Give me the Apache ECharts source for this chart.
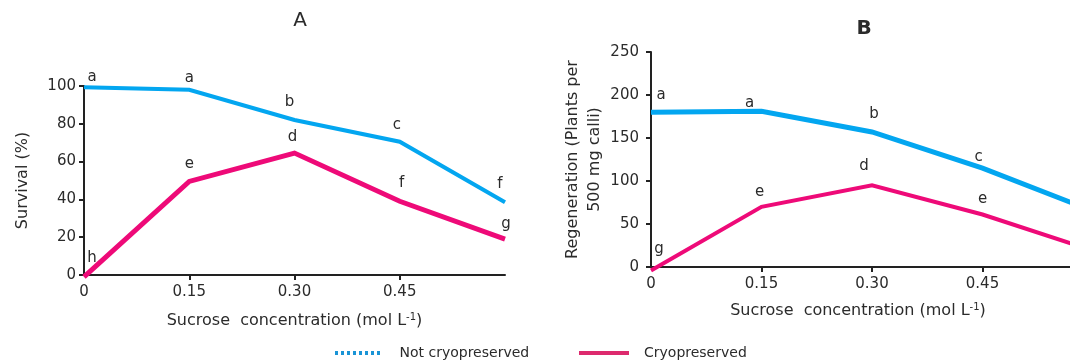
<!DOCTYPE html>
<html><head><meta charset="utf-8">
<script src="https://cdn.jsdelivr.net/npm/echarts@6/dist/echarts.min.js"></script>
<style>html,body{margin:0;padding:0;background:#fff}#c{width:1070px;height:364px}</style>
</head><body><div id="c"></div>
<script>
// ---- data ----
const xLabels = ['0', '0.15', '0.30', '0.45', '0.60'];
const survivalNot = [99.3, 98, 82, 70.5, 38.5];
const survivalCryo = [-1, 49.5, 64.5, 39, 19];
const regenNot = [180, 181, 157, 115, 65];
const regenCryo = [-4, 70, 95, 61, 19];
const lettersSurvNot = ['a', 'a', 'b', 'c', 'f'];
const lettersSurvCryo = ['h', 'e', 'd', 'f', 'g'];
const lettersRegenNot = ['a', 'a', 'b', 'c', ''];
const lettersRegenCryo = ['g', 'e', 'd', 'e', ''];
const survivalTicks = [0, 100, 20];
const regenTicks = [0, 250, 50];

// ---- layout / style ----
const FONT = 'DejaVu Sans';
const TXT = '#2b2b2b';
const BLUE = '#03a6f0';
const PINK = '#ee0a78';
const offA1 = [[8,-10],[0,-12],[-5,-18],[-3,-17],[-5,-18]];
const offA2 = [[8,-19],[0,-17],[-2,-16],[2,-18],[1,-15]];
const offB1 = [[10,-17],[-12,-8],[2,-18],[-4,-11],[0,0]];
const offB2 = [[8,-21],[-2,-15],[-8,-19],[0,-15],[0,0]];

const chart = echarts.init(document.getElementById('c'), null, {renderer: 'canvas'});

function xAxisCfg(gi, nameGap, namePad) {
  return {
    type: 'category', gridIndex: gi, data: xLabels, boundaryGap: false,
    axisLine: {lineStyle: {color: '#222', width: 2}},
    axisTick: {show: true, length: 5, lineStyle: {color: '#222', width: 2}, interval: function (i) { return i > 0 && i < 4; }},
    axisLabel: {color: TXT, fontFamily: FONT, fontSize: 15, margin: 10, formatter: function (v, i) { return i < 4 ? v : ''; }},
    splitLine: {show: false},
    name: 'Sucrose  concentration (mol L{sup|-1})', nameLocation: 'middle', nameGap: nameGap,
    nameTextStyle: {color: TXT, fontFamily: FONT, fontSize: 16, padding: namePad,
      rich: {sup: {fontSize: 10, verticalAlign: 'top', padding: [0, 0, 8, 0], color: TXT, fontFamily: FONT}}}
  };
}
function yAxisCfg(gi, ticks, name, nameGap, labelMargin) {
  return {
    type: 'value', gridIndex: gi, min: ticks[0], max: ticks[1], interval: ticks[2],
    axisLine: {show: true, lineStyle: {color: '#222', width: 2}},
    axisTick: {show: true, length: 5, lineStyle: {color: '#222', width: 2}},
    axisLabel: {color: TXT, fontFamily: FONT, fontSize: 15, margin: labelMargin},
    splitLine: {show: false},
    name: name, nameLocation: 'middle', nameGap: nameGap,
    nameTextStyle: {color: TXT, fontFamily: FONT, fontSize: 16, lineHeight: 22}
  };
}
function lineSeries(name, gi, data, color, width) {
  return {
    type: 'line', name: name, xAxisIndex: gi, yAxisIndex: gi, data: data,
    symbol: 'none', clip: false, silent: true, animation: false,
    lineStyle: {color: color, width: width, join: 'miter'}, itemStyle: {color: color}
  };
}
function letterSeries(gi, data, letters, offs) {
  return {
    type: 'scatter', name: 'letters' + gi + letters.join(''), xAxisIndex: gi, yAxisIndex: gi,
    symbolSize: 0, silent: true, animation: false, clip: false,
    itemStyle: {opacity: 1},
    data: data.map(function (v, i) {
      return {value: [i, v], label: {show: letters[i] !== '', formatter: letters[i], offset: offs[i]}};
    }),
    label: {show: true, position: 'inside', color: TXT, fontFamily: FONT, fontSize: 15}
  };
}

// legend icons drawn as paths (dotted bar / solid bar)
function dottedPath(w, dash, gap, h) {
  let p = 'path://';
  for (let x = 0; x + dash <= w; x += dash + gap) p += 'M' + x + ',0h' + dash + 'v' + h + 'h-' + dash + 'z';
  return p;
}

chart.setOption({
  animation: false,
  backgroundColor: '#fff',
  title: [
    {text: 'A', left: 295, top: 6, textAlign: 'center', textStyle: {color: TXT, fontFamily: FONT, fontSize: 20, fontWeight: 'normal'}},
    {text: 'B', left: 859, top: 14, textAlign: 'center', textStyle: {color: TXT, fontFamily: FONT, fontSize: 20, fontWeight: 'bold'}}
  ],
  grid: [
    {left: 84, top: 86, width: 421, height: 189, outerBoundsMode: 'none', containLabel: false},
    {left: 651, top: 52, width: 442, height: 215, outerBoundsMode: 'none', containLabel: false}
  ],
  xAxis: [xAxisCfg(0, 37, [0, 0, 0, 0]), xAxisCfg(1, 35, [0, 28, 0, 0])],
  yAxis: [
    yAxisCfg(0, survivalTicks, 'Survival (%)', 50, 8),
    yAxisCfg(1, regenTicks, 'Regeneration (Plants per\n500 mg calli)', 45, 12)
  ],
  legend: [
    {data: [{name: 'Not cryopreserved', icon: dottedPath(48, 3, 3, 4), itemStyle: {color: '#1994d6'}}],
      left: 335, top: 346, padding: 0, itemWidth: 48, itemHeight: 4, selectedMode: false,
      textStyle: {color: TXT, fontFamily: FONT, fontSize: 14, padding: [0, 0, 0, 13]}},
    {data: [{name: 'Cryopreserved', icon: 'rect', itemStyle: {color: '#dd2a6e'}}],
      left: 579, top: 346, padding: 0, itemWidth: 50, itemHeight: 4, selectedMode: false,
      textStyle: {color: TXT, fontFamily: FONT, fontSize: 14, padding: [0, 0, 0, 10]}}
  ],
  series: [
    lineSeries('Not cryopreserved', 0, survivalNot, BLUE, 4),
    lineSeries('Cryopreserved', 0, survivalCryo, PINK, 5),
    lineSeries('Not cryopreserved', 1, regenNot, BLUE, 5),
    lineSeries('Cryopreserved', 1, regenCryo, PINK, 4),
    letterSeries(0, survivalNot, lettersSurvNot, offA1),
    letterSeries(0, survivalCryo, lettersSurvCryo, offA2),
    letterSeries(1, regenNot, lettersRegenNot, offB1),
    letterSeries(1, regenCryo, lettersRegenCryo, offB2)
  ]
});
</script></body></html>
